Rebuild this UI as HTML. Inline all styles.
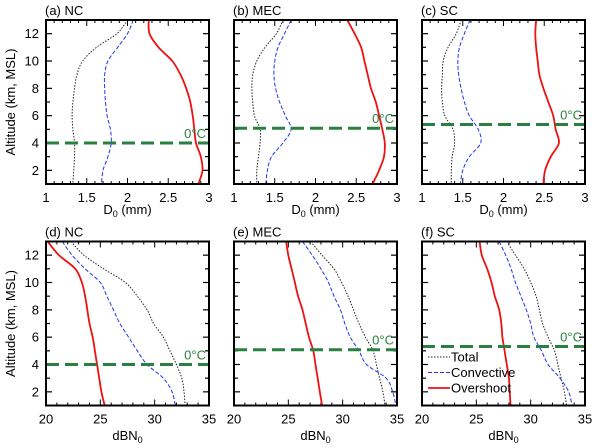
<!DOCTYPE html>
<html><head><meta charset="utf-8"><style>
body{margin:0;background:#fff}
svg{display:block;font-family:"Liberation Sans",sans-serif}
</style></head><body>
<svg id="c" width="600" height="448" viewBox="0 0 600 448" xmlns="http://www.w3.org/2000/svg"></svg>
<script>
const alts = [13,12,11,10,9,8,7,6,5,4,3,2,1];
const totalA=[2.0,1.87,1.62,1.45,1.38,1.35,1.33,1.32,1.33,1.35,1.35,1.34,1.33];
const convA=[2.07,2.0,1.88,1.76,1.72,1.72,1.73,1.75,1.79,1.8,1.76,1.7,1.68];
const overA=[2.26,2.27,2.38,2.55,2.65,2.72,2.77,2.8,2.82,2.84,2.9,2.92,2.87];
const totalB=[1.6,1.52,1.38,1.28,1.23,1.22,1.23,1.25,1.32,1.32,1.3,1.28,1.28];
const convB=[1.7,1.62,1.54,1.5,1.49,1.51,1.56,1.63,1.70,1.6,1.46,1.41,1.39];
const overB=[2.39,2.48,2.56,2.6,2.64,2.68,2.74,2.78,2.82,2.85,2.84,2.78,2.7];
const totalC=[1.48,1.42,1.32,1.26,1.25,1.24,1.25,1.28,1.38,1.4,1.37,1.36,1.36];
const convC=[1.59,1.52,1.46,1.44,1.45,1.48,1.52,1.58,1.69,1.72,1.58,1.5,1.47];
const overC=[2.4,2.39,2.4,2.42,2.44,2.49,2.55,2.61,2.64,2.68,2.58,2.51,2.49];
const totalD=[22.3,23.5,25.3,27.3,28.4,29.3,29.9,30.8,31.4,32.0,32.5,32.7,32.8];
const convD=[21.5,22.4,23.6,25.0,25.6,26.2,26.8,27.6,28.4,29.3,30.8,31.6,31.9];
const overD=[20.15,21.2,22.7,23.3,23.6,23.8,24.0,24.3,24.5,24.7,24.9,25.1,25.4];
const totalE=[27.05,28.1,29.2,29.9,30.5,31.0,31.5,32.1,32.8,33.1,33.4,33.7,33.9];
const convE=[26.3,27.2,28.0,28.7,29.2,29.8,30.2,30.7,31.5,32.2,34.0,34.6,34.9];
const overE=[24.8,25.0,25.3,25.6,25.9,26.3,26.6,26.9,27.3,27.5,27.7,27.9,28.1];
const totalF=[27.8,28.6,29.4,30.0,30.5,30.8,31.1,31.6,32.2,32.5,32.8,33.1,33.3];
const convF=[27.1,27.7,28.2,28.6,29.1,29.6,30.0,30.3,31.0,31.6,32.7,33.5,33.8];
const overF=[25.3,25.5,26.0,26.4,26.7,27.1,27.3,27.4,27.6,27.8,28.0,28.07,28.15];
const freeze=[4,5.08,5.35,4,5.08,5.32];
const titles=["(a) NC","(b) MEC","(c) SC","(d) NC","(e) MEC","(f) SC"];
const topTicks=["1","1.5","2","2.5","3"];
const botTicks=["20","25","30","35"];
const yTicks=["2","4","6","8","10","12"];

const NS="http://www.w3.org/2000/svg";
const svg=document.getElementById('c');
function mk(tag,attrs,parent){const e=document.createElementNS(NS,tag);for(const k in attrs)e.setAttribute(k,attrs[k]);(parent||svg).appendChild(e);return e;}
function smooth(pts){
  let d='M'+pts[0][0].toFixed(1)+','+pts[0][1].toFixed(1);
  for(let i=0;i<pts.length-1;i++){
    const p0=pts[Math.max(0,i-1)],p1=pts[i],p2=pts[i+1],p3=pts[Math.min(pts.length-1,i+2)];
    const c1=[p1[0]+(p2[0]-p0[0])/6,p1[1]+(p2[1]-p0[1])/6];
    const c2=[p2[0]-(p3[0]-p1[0])/6,p2[1]-(p3[1]-p1[1])/6];
    d+=` C${c1[0].toFixed(1)},${c1[1].toFixed(1)} ${c2[0].toFixed(1)},${c2[1].toFixed(1)} ${p2[0].toFixed(1)},${p2[1].toFixed(1)}`;
  }
  return d;
}
const series=[[totalA,convA,overA],[totalB,convB,overB],[totalC,convC,overC],[totalD,convD,overD],[totalE,convE,overE],[totalF,convF,overF]];
const lefts=[46,234,422];const W=163;
for(let p=0;p<6;p++){
  const row=p<3?0:1,col=p%3;
  const x0=lefts[col],y0=row?241.5:20,H=164;
  const xmin=row?20:1,xmax=row?35:3;
  const sx=v=>x0+(v-xmin)/(xmax-xmin)*W;
  const sy=a=>y0+(13-a)/12*H;
  const g=mk('g',{});
  
  
  const t=mk('text',{x:x0-1,y:y0-5,'font-size':13},g);t.textContent=titles[p];
  
  for(let a=1;a<=13;a++){const y=sy(a);const L=a%2==0?6:4;
    mk('line',{x1:x0,x2:x0+L,y1:y,y2:y,stroke:'#000','stroke-width':1.2},g);
    mk('line',{x1:x0+W,x2:x0+W-L,y1:y,y2:y,stroke:'#000','stroke-width':1.2},g);}
  const step=row?1:0.1,nT=Math.round((xmax-xmin)/step);
  for(let i=0;i<=nT;i++){const v=xmin+i*step;const x=sx(v);const major=(i%5==0);const L=major?6:3;
    mk('line',{x1:x,x2:x,y1:y0+H,y2:y0+H-L,stroke:'#000','stroke-width':1},g);
    mk('line',{x1:x,x2:x,y1:y0,y2:y0+L,stroke:'#000','stroke-width':1},g);}
  const labs=row?botTicks:topTicks;
  labs.forEach(s=>{const tt=mk('text',{x:sx(parseFloat(s)),y:y0+H+18,'font-size':13,'text-anchor':'middle'},g);tt.textContent=s;
    });
  const xt=mk('text',{x:x0+W/2,y:row?440:214,'font-size':13,'text-anchor':'middle'},g);
  if(row){xt.innerHTML='dBN<tspan font-size="9" dy="3">0</tspan>';}else{xt.innerHTML='D<tspan font-size="9" dy="3">0</tspan><tspan dy="-3"> (mm)</tspan>';}
  
  if(col==0){
    yTicks.forEach(s=>{const tt=mk('text',{x:x0-7,y:sy(parseFloat(s))+4.5,'font-size':13,'text-anchor':'end'},g);tt.textContent=s;
      });
    const yt=mk('text',{x:0,y:0,'font-size':13,'text-anchor':'middle',transform:`translate(15,${y0+H/2}) rotate(-90)`},g);
    yt.textContent='Altitude (km, MSL)';
    
  }
  const cid='cl'+p;const cp=mk('clipPath',{id:cid},g);mk('rect',{x:x0,y:y0,width:W,height:H},cp);
  const styles=[{stroke:'#222','stroke-width':1,'stroke-dasharray':'1.5,1.5'},{stroke:'#2233ee','stroke-width':1,'stroke-dasharray':'4,2'},{stroke:'#ee1111','stroke-width':1.8}];
  const names=['total-line','convective-line','overshoot-line'];
  series[p].forEach((arr,k)=>{
    const pts=arr.map((v,i)=>[sx(v),sy(alts[i])]);
    const pth=mk('path',Object.assign({d:smooth(pts),fill:'none','clip-path':`url(#${cid})`,'stroke-linejoin':'round'},styles[k]),g);
    
  });
  const fy=sy(freeze[p]);
  const fl=mk('line',{x1:x0,x2:x0+W,y1:fy,y2:fy,stroke:'#2a8040','stroke-width':3,'stroke-dasharray':'13,6'},g);
  
  const ft=mk('text',{x:x0+W-3,y:fy-5,'font-size':13,fill:'#2a8040','text-anchor':'end'},g);ft.textContent='0°C';
  
  mk('rect',{x:x0,y:y0,width:W,height:H,fill:'none',stroke:'#000','stroke-width':2},g);
}
const lg=mk('g',{});

const ln=['Total','Convective','Overshoot'];
const ls=[{stroke:'#222','stroke-width':1,'stroke-dasharray':'1.5,1.5'},{stroke:'#2233ee','stroke-width':1,'stroke-dasharray':'4,2'},{stroke:'#ee1111','stroke-width':1.8}];
ln.forEach((n,i)=>{const y=357+i*15.5;
  mk('line',Object.assign({x1:428,x2:450,y1:y,y2:y},ls[i]),lg);
  const t=mk('text',{x:451,y:y+4.5,'font-size':13},lg);t.textContent=n;
  });
</script>
</body></html>
